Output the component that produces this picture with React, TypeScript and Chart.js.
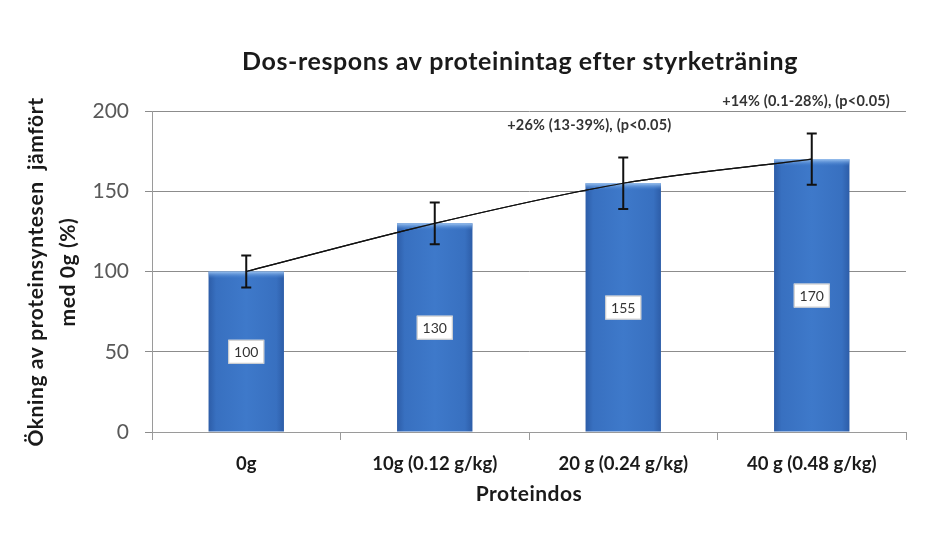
import { useEffect, useRef } from "react";
import { Chart, registerables } from "chart.js";

Chart.register(...registerables);

const categories = ["0g", "10g (0.12 g/kg)", "20 g (0.24 g/kg)", "40 g (0.48 g/kg)"];
const synthesis = [100, 130, 155, 170];
const errorSize = [10, 13, 16, 16];
const trendLine = [100, 130, 155, 170];
const yTicks = [0, 50, 100, 150, 200];
const noteTexts = ["+26% (13-39%), (p<0.05)", "+14% (0.1-28%), (p<0.05)"];

const FONT = 'Lato, "Noto Sans", sans-serif';
const BAR_PCT = 0.4;

function barGeometry(chart: any, i: number) {
    const x = chart.scales.x;
    const cw = x.width / categories.length;
    const cx = x.getPixelForValue(i);
    return { cx, w: cw * BAR_PCT, cw };
}

const overlayPlugin = {
    id: "overlay",
    afterDatasetsDraw(chart: any) {
        const { ctx, scales } = chart;
        const y = scales.y;

        // light cap on top of each bar
        synthesis.forEach((v, i) => {
            const { cx, w } = barGeometry(chart, i);
            const top = y.getPixelForValue(v);
            const g = ctx.createLinearGradient(0, top, 0, top + 7);
            g.addColorStop(0, "#9cc3f0");
            g.addColorStop(1, "rgba(70,130,210,0)");
            ctx.save();
            ctx.fillStyle = g;
            ctx.fillRect(cx - w / 2, top, w, 7);
            ctx.restore();
        });

        // trend line over bar caps
        const lineMeta = chart.getDatasetMeta(1);
        lineMeta.controller.draw();

        // error bars
        ctx.save();
        ctx.strokeStyle = "#111";
        ctx.lineWidth = 2;
        synthesis.forEach((v, i) => {
            const { cx } = barGeometry(chart, i);
            const hi = y.getPixelForValue(v + errorSize[i]);
            const lo = y.getPixelForValue(v - errorSize[i]);
            ctx.beginPath();
            ctx.moveTo(cx, hi);
            ctx.lineTo(cx, lo);
            ctx.moveTo(cx - 5, hi);
            ctx.lineTo(cx + 5, hi);
            ctx.moveTo(cx - 5, lo);
            ctx.lineTo(cx + 5, lo);
            ctx.stroke();
        });
        ctx.restore();

        // value boxes
        ctx.save();
        ctx.font = `14px ${FONT}`;
        ctx.textAlign = "center";
        ctx.textBaseline = "middle";
        synthesis.forEach((v, i) => {
            const { cx } = barGeometry(chart, i);
            const cy = y.getPixelForValue(v / 2);
            const bw = 36;
            const bh = 24;
            ctx.fillStyle = "#ffffff";
            ctx.fillRect(cx - bw / 2, cy - bh / 2, bw, bh);
            ctx.strokeStyle = "#c8c8c8";
            ctx.lineWidth = 1;
            ctx.strokeRect(cx - bw / 2 + 0.5, cy - bh / 2 + 0.5, bw - 1, bh - 1);
            ctx.fillStyle = "#333";
            ctx.fillText(String(v), cx, cy + 1);
        });
        ctx.restore();
    },
    afterDraw(chart: any) {
        const { ctx, scales, chartArea } = chart;
        const x = scales.x;
        const y = scales.y;
        ctx.save();
        ctx.fillStyle = "#1a1a1a";
        ctx.textAlign = "center";
        ctx.textBaseline = "middle";

        // title
        ctx.font = `bold 25px ${FONT}`;
        (ctx as any).letterSpacing = "0.6px";
        ctx.fillText("Dos-respons av proteinintag efter styrketräning", 520, 62);

        // annotations
        ctx.font = `bold 14.5px ${FONT}`;
        (ctx as any).letterSpacing = "0.2px";
        ctx.fillStyle = "#333";
        const cw = x.width / categories.length;
        ctx.fillText(noteTexts[0], x.getPixelForValue(2) - cw * 0.18, y.getPixelForValue(191));
        ctx.fillText(noteTexts[1], x.getPixelForValue(3) - cw * 0.03, y.getPixelForValue(206));

        // x title
        ctx.fillStyle = "#1a1a1a";
        ctx.font = `bold 21px ${FONT}`;
        (ctx as any).letterSpacing = "0.5px";
        ctx.fillText("Proteindos", (chartArea.left + chartArea.right) / 2, 494);

        // y title
        ctx.translate(52, 272);
        ctx.rotate(-Math.PI / 2);
        ctx.font = `bold 21px ${FONT}`;
        (ctx as any).letterSpacing = "0.6px";
        ctx.fillText("Ökning av proteinsyntesen  jämfört", 0, -16);
        ctx.fillText("med 0g (%)", 0, 16);
        ctx.restore();
    },
};

export default function App() {
    const canvasRef = useRef<HTMLCanvasElement | null>(null);
    const chartRef = useRef<Chart | null>(null);

    useEffect(() => {
        if (!canvasRef.current) return;
        if (chartRef.current) chartRef.current.destroy();

        chartRef.current = new Chart(canvasRef.current, {
            type: "bar",
            data: {
                labels: categories,
                datasets: [
                    {
                        type: "bar",
                        data: synthesis,
                        order: 1,
                        barPercentage: BAR_PCT,
                        categoryPercentage: 1,
                        backgroundColor: (c: any) => {
                            const chart = c.chart;
                            if (!chart.chartArea || c.dataIndex === undefined) return "#3a74c6";
                            const { cx, w } = barGeometry(chart, c.dataIndex);
                            const g = chart.ctx.createLinearGradient(cx - w / 2, 0, cx + w / 2, 0);
                            g.addColorStop(0, "#2d5da8");
                            g.addColorStop(0.1, "#3870c0");
                            g.addColorStop(0.5, "#3e79ca");
                            g.addColorStop(0.9, "#3870c0");
                            g.addColorStop(1, "#2d5da8");
                            return g;
                        },
                        borderWidth: 0,
                    },
                    {
                        type: "line",
                        data: trendLine,
                        order: 0,
                        borderColor: "#111",
                        borderWidth: 1.2,
                        pointRadius: 0,
                        fill: false,
                        cubicInterpolationMode: "monotone",
                    } as any,
                ],
            },
            options: {
                responsive: true,
                maintainAspectRatio: false,
                animation: false,
                layout: { padding: { top: 111, right: 35, left: 0, bottom: 0 } },
                plugins: {
                    legend: { display: false },
                    tooltip: { enabled: false },
                },
                scales: {
                    x: {
                        offset: true,
                        grid: {
                            offset: true,
                            drawOnChartArea: false,
                            color: "#9a9a9a",
                            tickLength: 8,
                        },
                        border: { color: "#9a9a9a" },
                        ticks: {
                            color: "#1a1a1a",
                            font: { family: FONT, size: 18.5, weight: "bold" },
                            padding: 13,
                            maxRotation: 0,
                        },
                        afterFit: (s: any) => {
                            s.height = 109;
                        },
                    },
                    y: {
                        min: 0,
                        max: 200,
                        afterBuildTicks: (s: any) => {
                            s.ticks = yTicks.map((v) => ({ value: v }));
                        },
                        grid: {
                            color: "#8c8c8c",
                            tickLength: 7,
                        },
                        border: { color: "#9a9a9a" },
                        ticks: {
                            color: "#595959",
                            font: { family: FONT, size: 21 },
                            padding: 16,
                        },
                        afterFit: (s: any) => {
                            s.width = 152;
                        },
                    },
                },
            },
            plugins: [overlayPlugin],
        });

        return () => {
            if (chartRef.current) chartRef.current.destroy();
            chartRef.current = null;
        };
    }, []);

    return (
        <div style={{ position: "fixed", left: 0, top: 0, width: 941, height: 541, background: "#fff" }}>
            <canvas ref={canvasRef} />
        </div>
    );
}
